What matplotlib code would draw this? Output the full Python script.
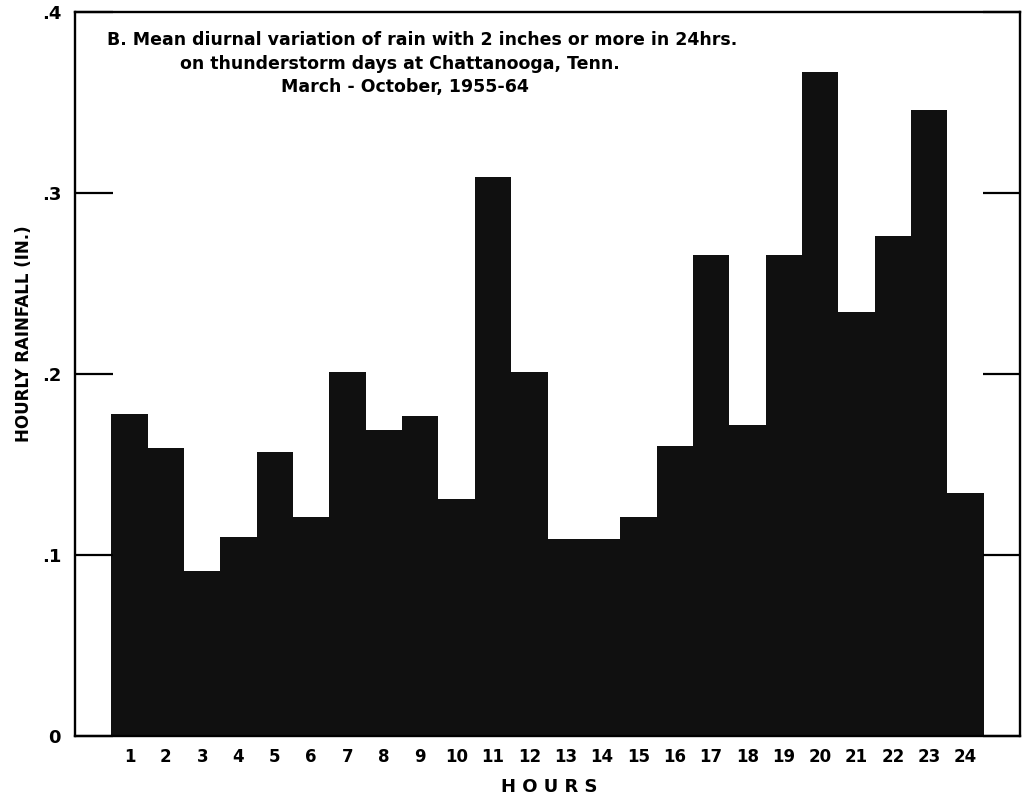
import matplotlib
matplotlib.use("Agg")
import matplotlib.pyplot as plt

# hourly rainfall (in.), hours 1..24
hours = list(range(1, 25))
rainfall = [0.178, 0.159, 0.091, 0.110, 0.157, 0.121, 0.201, 0.169,
            0.177, 0.131, 0.309, 0.201, 0.109, 0.109, 0.121, 0.160,
            0.266, 0.172, 0.266, 0.367, 0.234, 0.276, 0.346, 0.134]
y_ticks = [0, 0.1, 0.2, 0.3, 0.4]
y_ticklabels = ["0", ".1", ".2", ".3", ".4"]
title_lines = ["B. Mean diurnal variation of rain with 2 inches or more in 24hrs.",
               "on thunderstorm days at Chattanooga, Tenn.",
               "March - October, 1955-64"]

plt.rcParams["font.family"] = ["DejaVu Sans"]

W, H = 1027, 800
fig = plt.figure(figsize=(W / 100, H / 100), dpi=100, facecolor="white")
ax = fig.add_axes([75 / W, 1 - 736 / H, (1020 - 75) / W, (736 - 12) / H])

ax.bar(hours, rainfall, width=1.0, color="#101010", edgecolor="none", zorder=1)

ax.set_xlim(-0.5, 25.5)
ax.set_ylim(0, 0.4)
ax.set_xticks(hours)
ax.set_xticklabels([str(h) for h in hours], fontsize=12, fontweight="bold")
ax.set_yticks(y_ticks)
ax.set_yticklabels(y_ticklabels, fontsize=13, fontweight="bold")
ax.tick_params(axis="x", length=0, pad=9)
ax.tick_params(axis="y", direction="in", length=27, width=1.6, pad=10,
               right=True, labelright=False)
for sp in ax.spines.values():
    sp.set_linewidth(1.7)

# title block, each line placed as in the original
fig.text(107 / W, 1 - 40 / H, title_lines[0], fontsize=12.5, fontweight="semibold",
         ha="left", va="center")
fig.text(180 / W, 1 - 64 / H, title_lines[1], fontsize=12.5, fontweight="semibold",
         ha="left", va="center")
fig.text(281 / W, 1 - 87 / H, title_lines[2], fontsize=12.5, fontweight="semibold",
         ha="left", va="center")

fig.text(549 / W, 1 - 787 / H, "H O U R S", fontsize=13, fontweight="bold",
         ha="center", va="center")
fig.text(24 / W, 1 - 334 / H, "HOURLY RAINFALL (IN.)", fontsize=12,
         fontweight="bold", rotation=90, ha="center", va="center")

fig.savefig("out.png", dpi=100, facecolor="white")
